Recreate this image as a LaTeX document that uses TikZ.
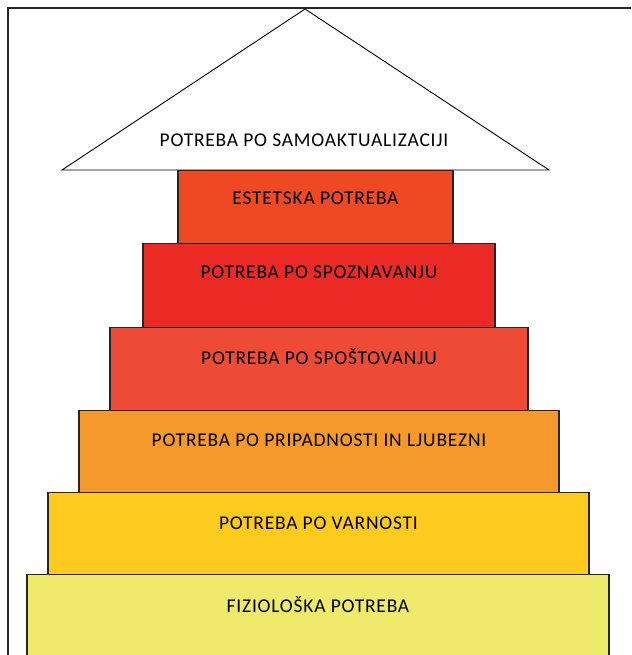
\documentclass[tikz,border=0pt]{standalone}
\usepackage{fontspec}
\usepackage{xcolor}
\usepackage{tikz}
\usetikzlibrary{positioning}
\newfontfamily\piramida{Carlito}[LetterSpace=4]

\definecolor{estetska}{HTML}{EF4923}
\definecolor{spoznavanje}{HTML}{EB2A26}
\definecolor{spostovanje}{HTML}{EE4B37}
\definecolor{pripadnost}{HTML}{F6992C}
\definecolor{varnost}{HTML}{FDCB1D}
\definecolor{fizioloska}{HTML}{EFE96C}

\tikzset{
  stopnja/.style={draw=black!85, line width=1.3pt, rectangle, inner sep=0pt, anchor=north},
  napis/.style={font=\piramida\fontsize{19.5}{19.5}\selectfont, inner sep=0pt, text=black},
}

\begin{document}
\begin{tikzpicture}[x=1pt,y=-1pt]
    \clip (0,0) rectangle (631,655);
    \fill[white] (0,0) rectangle (631,655);
    \draw[line width=1.5pt, black!85] (8,670) -- (8,8) -- (640,8);

    \coordinate (vrh) at (305,9);
    \coordinate (levo) at (62,170);
    \coordinate (desno) at (549,170);
    \draw[line width=0.9pt, fill=white] (vrh) -- (levo) -- (desno) -- cycle;
    \node[napis] (t-samo) at (304,140) {POTREBA PO SAMOAKTUALIZACIJI};

    \node[stopnja, fill=estetska, minimum width=275pt, minimum height=73pt] (estetska) at (315.5,170) {};
    \node[napis] (t-estetska) at ([yshift=-28pt]estetska.north) {ESTETSKA POTREBA};

    \node[stopnja, fill=spoznavanje, minimum width=352pt, minimum height=84pt] (spoznavanje) at (319,243) {};
    \node[napis] (t-spoznavanje) at ([yshift=-29pt]spoznavanje.north) {POTREBA PO SPOZNAVANJU};

    \node[stopnja, fill=spostovanje, minimum width=418pt, minimum height=83pt] (spostovanje) at (319,327) {};
    \node[napis] (t-spostovanje) at ([yshift=-30pt]spostovanje.north) {POTREBA PO SPOŠTOVANJU};

    \node[stopnja, fill=pripadnost, minimum width=480pt, minimum height=82pt] (pripadnost) at (319,410) {};
    \node[napis] (t-pripadnost) at ([yshift=-30pt]pripadnost.north) {POTREBA PO PRIPADNOSTI IN LJUBEZNI};

    \node[stopnja, fill=varnost, minimum width=541pt, minimum height=82pt] (varnost) at (318.5,492) {};
    \node[napis] (t-varnost) at ([yshift=-31pt]varnost.north) {POTREBA PO VARNOSTI};

    \node[stopnja, fill=fizioloska, minimum width=582pt, minimum height=110pt] (fizioloska) at (318,574) {};
    \node[napis] (t-fizioloska) at ([yshift=-31pt]fizioloska.north) {FIZIOLOŠKA POTREBA};
\end{tikzpicture}
\end{document}
